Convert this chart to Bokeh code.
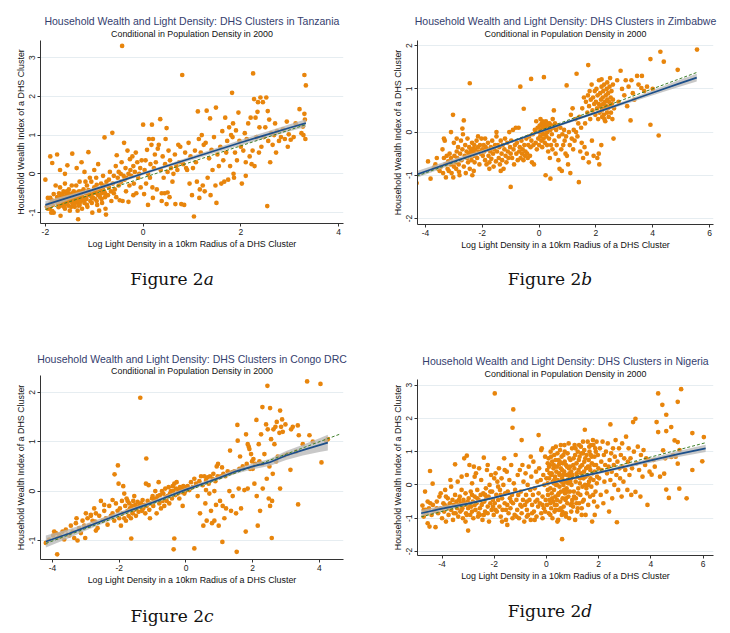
from bokeh.plotting import figure
from bokeh.models import FixedTicker, Title, Div
from bokeh.layouts import column, row
from bokeh.embed import file_html
from bokeh.resources import INLINE

# ---------------- data ----------------
TITLE_BASE = "Household Wealth and Light Density: DHS Clusters in "
SUBTITLE = "Conditional in Population Density in 2000"
XLABEL = "Log Light Density in a 10km Radius of a DHS Cluster"
YLABEL = "Household Wealth Index of a DHS Cluster"
COUNTRIES = ["Tanzania", "Zimbabwe", "Congo DRC", "Nigeria"]
CAPTIONS = ["a", "b", "c", "d"]

TZ_XTICKS = [-2, 0, 2, 4]
TZ_YTICKS = [-1, 0, 1, 2, 3]
ZW_XTICKS = [-4, -2, 0, 2, 4, 6]
ZW_YTICKS = [-2, -1, 0, 1, 2]
CD_XTICKS = [-4, -2, 0, 2, 4]
CD_YTICKS = [-1, 0, 1, 2]
NG_XTICKS = [-4, -2, 0, 2, 4, 6]
NG_YTICKS = [-2, -1, 0, 1, 2, 3]

TZ_PTS = [
    (-2.0,-0.15),(-1.9,0.45),(-1.86,0.28),(-1.83,-0.52),(-1.86,-0.69),(-1.9,-0.77),(-1.91,-0.9),(-1.83,-1.0),
    (-1.86,-0.96),(-1.76,0.5),(-1.79,-0.3),(-1.76,-0.6),(-1.73,-0.86),(-1.69,-1.08),(-1.69,-0.69),(-1.95,-0.62),(-1.97,-0.85),
    (-1.7,-0.35),(-1.68,-0.55),(-1.66,-0.7),(-1.65,-0.8),(-1.63,-0.45),(-1.62,-0.62),(-1.6,-0.9),(-1.6,-0.25),(-1.58,-0.72),
    (-1.57,-0.5),(-1.55,-0.6),(-1.55,0.22),(-1.53,-0.82),(-1.52,-0.4),(-1.5,-0.65),(-1.5,-0.95),(-1.48,-0.55),(-1.46,-0.3),
    (-1.45,0.52),(-1.45,-0.75),(-1.43,-0.62),(-1.42,-0.45),(-1.4,-0.85),(-1.4,-0.68),(-1.38,-0.55),(-1.37,-0.3),(-1.36,0.15),
    (-1.35,-0.72),(-1.34,-0.95),(-1.33,-1.17),(-1.32,-0.6),(-1.31,-0.45),(-1.3,-0.8),(-1.3,-0.2),(-1.28,-0.65),(-1.27,-0.5),
    (-1.26,0.3),(-1.25,-0.9),(-1.74,-0.7),(-1.72,-0.5),(-1.69,-0.82),(-1.64,-0.62),(-1.61,-0.78),(-1.56,-0.45),(-1.54,-0.7),
    (-1.49,-0.6),(-1.47,-0.85),(-1.44,-0.5),(-1.41,-0.6),(-1.39,-0.75),(-1.36,-0.58),(-1.33,-0.68),(-1.29,-0.55),(-1.6,0.0),(-1.7,0.1),
    (-1.75,-0.75),(-1.7,-0.62),(-1.65,-0.52),(-1.62,-0.85),(-1.58,-0.58),(-1.55,-0.78),(-1.52,-0.5),(-1.48,-0.7),(-1.45,-0.58),
    (-1.42,-0.78),(-1.38,-0.65),(-1.35,-0.48),(-1.32,-0.82),(-1.28,-0.72),(-1.25,-0.45),(-1.22,-0.68),(-1.18,-0.62),(-1.15,-0.8),
    (-1.12,-0.42),(-1.08,-0.55),(-1.05,-0.75),(-1.02,-0.62),(-0.98,-0.45),(-0.95,-0.7),(-0.92,-0.55),(-0.88,-0.4),(-0.85,-0.65),
    (-0.82,-0.35),(-0.78,-0.5),(-0.75,-0.2),(-1.8,-0.7),(-1.85,-0.8),(-1.9,-0.62),(-1.95,-0.9),(-1.88,-1.0),
    (-1.24,-0.6),(-1.22,-0.4),(-1.2,-0.75),(-1.2,0.05),(-1.18,-0.5),(-1.16,-0.65),(-1.15,-0.3),(-1.14,-0.85),(-1.12,0.56),
    (-1.11,-0.55),(-1.1,-0.45),(-1.08,-0.7),(-1.06,-0.2),(-1.05,-0.6),(-1.04,-1.0),(-1.02,-0.5),(-1.0,-0.35),(-0.98,-0.65),
    (-0.96,-0.1),(-0.95,-0.5),(-0.94,-0.8),(-0.92,0.25),(-0.9,-0.4),(-0.88,-0.6),(-0.86,-0.25),(-0.85,-0.5),(-0.84,-0.75),
    (-0.82,-0.05),(-0.8,-0.45),(-0.8,-0.3),(-0.78,-0.6),(-0.77,-0.9),(-0.76,-1.05),(-0.79,0.94),(-1.18,-0.2),(-1.0,0.1),
    (-1.09,-0.1),(-0.9,-0.95),(-0.95,-0.28),
    (-0.74,-0.3),(-0.72,-0.55),(-0.7,-0.15),(-0.68,0.05),(-0.66,-0.45),(-0.65,-0.7),(-0.63,1.06),(-0.62,-0.25),(-0.6,-0.05),
    (-0.58,-0.4),(-0.56,0.2),(-0.55,-0.6),(-0.54,0.48),(-0.52,-0.1),(-0.5,-0.3),(-0.48,-0.68),(-0.46,0.0),(-0.45,-0.2),
    (-0.44,0.3),(-0.43,3.3),(-0.42,-0.7),(-0.4,-0.05),(-0.39,0.8),(-0.38,-0.15),(-0.36,0.15),(-0.35,-0.45),(-0.34,-0.1),
    (-0.32,0.6),(-0.3,0.0),(-0.3,-0.72),(-0.28,-0.3),(-0.27,0.38),(-0.26,0.1),(-0.7,-0.35),(-0.5,0.05),(-0.6,-0.5),
    (-0.24,-0.05),(-0.22,0.45),(-0.2,0.2),(-0.19,-0.25),(-0.17,0.05),(-0.15,0.55),(-0.14,-0.5),(-0.12,0.3),(-0.1,-0.1),
    (-0.08,0.0),(-0.06,0.15),(-0.05,-0.35),(-0.03,0.35),(0.0,1.27),(0.02,-0.52),(0.03,0.1),(0.05,0.35),(0.06,-0.25),
    (0.08,0.62),(0.1,0.0),(0.12,0.9),(0.14,-0.1),(0.15,0.25),(0.17,0.75),(0.18,1.27),(0.19,-0.35),(0.2,0.9),(0.22,0.15),
    (0.24,0.5),(0.2,-0.62),(0.1,-0.8),(-0.2,-0.55),
    (0.26,0.3),(0.28,-0.4),(0.3,0.65),(0.32,0.75),(0.35,1.41),(0.36,0.1),(0.38,-0.7),(0.4,0.45),(0.42,-0.1),(0.44,-0.5),
    (0.45,0.25),(0.46,0.9),(0.48,1.18),(0.5,-0.48),(0.5,0.05),(0.52,0.6),(0.54,-0.6),(0.55,0.35),(0.57,0.15),(0.6,-0.2),
    (0.62,0.0),(0.65,0.5),(0.66,-0.78),(0.68,0.2),(0.7,0.1),(0.72,0.75),(0.74,0.3),(0.38,-0.5),(0.48,-0.78),
    (0.76,0.7),(0.78,-0.78),(0.8,2.55),(0.82,0.25),(0.84,-0.8),(0.86,0.55),(0.9,0.1),(0.93,0.8),(0.95,-0.25),(0.97,0.45),
    (1.0,-0.55),(1.02,0.15),(1.04,-1.1),(1.06,0.6),(1.08,0.3),(1.1,-0.2),(1.12,1.61),(1.14,0.9),(1.16,-0.4),(1.18,0.55),
    (1.2,1.0),(1.22,-0.3),(1.24,0.75),(0.88,0.15),(1.15,-0.62),
    (1.26,-0.45),(1.28,0.8),(1.3,1.63),(1.32,-0.1),(1.35,0.4),(1.37,1.43),(1.38,-0.55),(1.4,0.62),(1.42,0.1),(1.45,0.95),
    (1.48,-0.3),(1.49,1.71),(1.5,-0.75),(1.52,0.5),(1.55,0.2),(1.58,0.7),(1.6,-0.25),(1.62,1.1),(1.64,0.35),(1.66,-0.2),
    (1.68,1.45),(1.7,0.55),(1.72,0.85),(1.74,-0.15),
    (1.76,1.2),(1.78,0.2),(1.8,1.0),(1.82,2.09),(1.83,0.95),(1.84,1.3),(1.86,-0.1),(1.88,0.55),(1.9,1.12),(1.92,0.35),
    (1.95,1.58),(1.97,0.85),(2.0,0.7),(2.02,-0.25),(2.05,0.6),(2.08,1.05),(2.1,0.3),(2.12,0.9),(2.15,1.3),(2.18,0.45),
    (2.2,1.45),(2.22,0.25),(2.24,0.6),(2.25,2.59),(1.85,0.0),(2.1,-0.05),
    (2.27,1.93),(2.28,0.2),(2.3,1.45),(2.32,0.95),(2.34,1.6),(2.35,1.85),(2.37,0.55),(2.38,1.2),(2.4,1.97),(2.42,0.7),
    (2.45,1.85),(2.47,0.95),(2.5,1.2),(2.52,1.97),(2.54,-0.83),(2.55,1.62),(2.56,0.85),(2.58,1.4),(2.6,0.3),(2.62,1.05),
    (2.65,0.75),(2.68,1.0),(2.7,1.3),(2.72,0.55),(2.74,1.1),
    (2.78,0.85),(2.82,0.95),(2.86,1.15),(2.9,0.9),(2.94,1.35),(2.96,0.7),(2.98,1.02),(3.02,0.88),(3.08,0.95),(3.12,1.3),
    (3.2,1.67),(3.24,1.05),(3.28,1.0),(3.3,2.55),(3.32,0.9),(3.3,1.55),(3.33,2.28),(3.27,1.22),(3.31,1.4),
]

ZW_PTS = [
    (-4.31,-1.18),(-3.91,-0.68),(-3.82,-1.08),(-3.6,-0.6),(-3.55,-0.85),(-3.5,-0.9),(-3.7,-0.82),(-3.65,-0.75),
    (-3.45,-0.8),(-3.4,-0.4),(-3.38,-0.95),(-3.35,-0.6),(-3.32,-0.2),(-3.3,-0.75),(-3.28,-1.05),(-3.25,-0.55),(-3.22,-0.85),
    (-3.2,-0.68),(-3.18,-0.9),(-3.15,-0.5),(-3.12,-0.75),(-3.1,-0.6),(-3.08,-0.95),(-3.05,-0.7),(-3.03,0.4),(-3.02,-1.05),
    (-3.0,-0.8),(-3.0,-0.25),(-3.1,0.0),(-3.35,-0.15),
    (-2.98,-0.55),(-2.95,-0.7),(-2.92,-0.85),(-2.9,-0.45),(-2.88,-0.6),(-2.85,-0.35),(-2.83,-0.75),(-2.8,-1.0),(-2.78,-0.5),
    (-2.75,-0.2),(-2.73,-0.65),(-2.7,-0.4),(-2.68,-0.05),(-2.65,0.27),(-2.65,-0.8),(-2.62,-0.55),(-2.6,-0.3),(-2.58,-0.95),
    (-2.55,-0.45),(-2.53,-0.6),(-2.52,-0.15),(-2.5,-0.7),(-2.7,0.08),(-2.9,-0.15),(-2.82,-0.92),
    (-2.48,-0.5),(-2.46,-0.35),(-2.44,1.13),(-2.44,-0.85),(-2.42,-0.55),(-2.4,-0.4),(-2.38,-0.65),(-2.36,-0.25),(-2.35,-1.0),
    (-2.33,-0.45),(-2.3,-0.55),(-2.28,-0.3),(-2.27,-0.7),(-2.25,-0.4),(-2.23,-0.5),(-2.2,-0.2),(-2.18,-0.6),(-2.15,-0.35),
    (-2.12,-0.45),(-2.1,-0.75),(-2.08,-0.3),(-2.05,-0.5),(-2.03,-0.15),(-2.0,-0.4),(-2.3,-0.9),(-2.15,-0.1),(-2.4,-0.48),(-2.32,-0.38),
    (-1.98,-0.55),(-1.95,-0.3),(-1.93,-0.45),(-1.9,-0.65),(-1.88,-0.35),(-1.85,-0.75),(-1.83,-0.4),(-1.8,-0.25),(-1.78,-0.55),
    (-1.75,-0.7),(-1.72,-0.45),(-1.7,-0.35),(-1.68,-0.62),(-1.65,-0.2),(-1.62,-0.5),(-1.6,-0.8),(-1.58,-0.4),(-1.55,-0.3),
    (-1.52,-0.68),(-1.5,-0.1),(-1.5,0.0),(-1.75,-0.85),(-1.9,-0.15),
    (-1.48,-0.45),(-1.45,-0.3),(-1.42,-0.6),(-1.4,-0.35),(-1.38,-0.75),(-1.35,-0.2),(-1.32,-0.5),(-1.3,-0.65),(-1.28,-0.3),
    (-1.25,-0.85),(-1.22,-0.4),(-1.2,-0.15),(-1.18,-0.55),(-1.15,-0.7),(-1.12,-0.25),(-1.1,-0.45),(-1.08,-0.6),(-1.05,0.0),
    (-1.02,-0.35),(-1.0,-1.27),(-1.0,-0.5),(-1.35,-0.9),
    (-0.98,-0.2),(-0.95,-0.6),(-0.92,0.05),(-0.9,-0.4),(-0.88,-0.75),(-0.85,-0.3),(-0.82,0.1),(-0.8,-0.5),(-0.78,-0.25),
    (-0.75,-0.65),(-0.72,0.1),(-0.7,-0.45),(-0.68,-0.35),(-0.66,1.05),(-0.65,-0.6),(-0.62,-0.2),(-0.6,-0.5),(-0.58,-0.4),
    (-0.55,-0.65),(-0.54,0.54),(-0.52,-0.3),(-0.5,-0.55),
    (-0.48,-0.45),(-0.45,-0.15),(-0.42,-0.5),(-0.4,-0.6),(-0.38,-0.3),(-0.35,-0.1),(-0.32,-0.55),(-0.3,-0.35),(-0.28,1.23),
    (-0.27,-0.2),(-0.25,-0.7),(-0.22,-0.05),(-0.2,-0.3),(-0.18,-0.75),(-0.15,0.05),(-0.12,-0.25),(-0.1,0.25),(-0.08,-0.4),
    (-0.05,0.1),(-0.03,-0.15),(0.0,0.0),(0.0,-0.3),
    (0.02,0.15),(0.04,-0.1),(0.05,0.3),(0.06,0.05),(0.08,-0.2),(0.09,0.2),(0.1,0.0),(0.11,-0.35),(0.12,0.1),(0.13,0.25),
    (0.14,-0.05),(0.15,0.15),(0.16,-0.15),(0.17,1.27),(0.18,0.05),(0.19,0.2),(0.2,-0.25),(0.21,0.1),(0.22,-0.05),(0.23,-1.0),
    (0.24,0.25),(0.25,0.05),(0.26,-0.1),(0.27,0.15),(0.28,-0.3),(0.29,0.2),(0.3,0.0),(0.32,-0.45),(0.33,0.1),(0.35,-0.15),
    (0.37,0.2),(0.38,-0.6),(0.4,-1.08),(0.4,0.05),(0.42,-0.3),(0.44,0.15),(0.45,-0.05),(0.47,-0.4),(0.48,0.3),(0.5,0.1),
    (0.52,0.5),(0.54,-0.2),(0.56,0.2),(0.58,-0.5),(0.6,0.05),(0.62,-0.3),(0.65,0.15),(0.68,-0.65),(0.7,-0.1),(0.72,-0.85),
    (0.75,0.1),(0.78,-0.4),(0.8,-0.9),(0.82,-0.05),(0.85,-0.3),(0.88,0.05),(0.9,-0.2),(0.93,-0.5),(0.95,-0.1),(0.97,1.08),(0.98,-0.55),
    (1.02,-0.75),(1.05,0.0),(1.08,-0.3),(1.1,-0.95),(1.12,0.4),(1.15,-0.15),(1.18,0.55),(1.2,-0.4),(1.22,0.05),(1.25,-0.2),
    (1.28,0.3),(1.3,0.0),(1.32,1.35),(1.35,-0.1),(1.38,0.2),(1.4,-1.16),(1.42,0.35),(1.45,-0.45),(1.48,0.1),(1.5,-0.25),
    (1.52,0.55),(1.55,-0.6),(1.58,0.8),(1.6,-0.35),(1.62,0.2),(1.65,0.7),(1.68,-0.5),(1.7,0.45),(1.72,0.85),(1.73,1.55),
    (1.75,-0.7),(1.76,0.6),(1.78,0.95),(1.8,0.3),(1.82,0.75),(1.85,1.1),(1.86,-0.2),(1.88,0.5),(1.9,0.8),(1.92,-0.55),
    (1.94,0.65),(1.96,0.95),(1.98,0.4),
    (2.0,0.7),(2.02,1.0),(2.04,0.55),(2.05,-0.6),(2.06,0.85),(2.08,0.3),(2.1,0.65),(2.11,1.2),(2.12,-0.75),(2.13,0.45),
    (2.15,0.9),(2.16,0.6),(2.18,0.75),(2.19,-0.3),(2.2,1.05),(2.21,0.5),(2.22,0.35),(2.24,0.8),(2.25,0.65),(2.26,0.95),
    (2.28,0.4),(2.29,1.1),(2.3,0.55),(2.32,0.7),(2.33,0.25),(2.35,0.85),(2.36,0.6),(2.38,1.0),(2.39,0.45),(2.4,0.75),
    (2.42,0.55),(2.43,0.9),(2.45,0.35),(2.46,0.7),(2.48,1.05),(2.5,0.6),(2.52,0.8),(2.53,0.45),(2.55,0.95),(2.56,0.65),
    (2.58,0.3),(2.6,0.75),(2.62,-0.15),(2.64,0.55),(2.6,1.1),(2.5,1.25),(2.4,1.15),(2.2,1.22),(2.1,-0.5),(2.3,0.3),
    (2.75,1.2),(2.8,0.7),(2.87,1.42),(2.92,1.0),(3.0,0.85),(3.05,1.2),(3.1,0.6),(3.15,1.05),(3.22,0.27),(3.3,0.9),
    (3.35,0.75),(3.45,1.3),(3.5,1.1),(3.62,1.3),(3.7,0.95),(3.8,1.05),(3.92,1.69),(3.92,0.17),(4.0,1.0),(4.21,-0.08),
    (4.27,1.86),(4.39,1.63),(4.88,1.44),(5.56,1.91),(3.25,1.2),(3.6,1.02),
]

CD_PTS = [
    (-4.2,-1.05),(-4.1,-0.98),(-3.98,-0.9),(-3.9,-0.85),(-3.85,-0.95),(-3.8,-0.88),(-3.75,-0.92),(-3.7,-0.82),(-3.65,-0.98),
    (-3.6,-0.78),(-3.55,-0.88),(-3.5,-0.9),(-3.45,-0.7),(-3.4,-0.82),(-3.35,-0.95),(-3.3,-0.65),(-3.28,-0.55),(-3.25,-1.0),
    (-3.2,-0.75),(-3.15,-0.85),(-3.1,-0.6),(-3.05,-0.7),(-3.02,-0.95),(-3.0,-0.45),(-3.86,-1.28),(-3.95,-0.82),
    (-2.95,-0.55),(-2.9,-0.7),(-2.85,-0.5),(-2.8,-0.6),(-2.75,-0.35),(-2.72,-0.62),(-2.7,-0.45),(-2.65,-0.75),(-2.6,-0.5),
    (-2.55,-0.2),(-2.5,-0.6),(-2.45,-0.4),(-2.4,-0.55),(-2.35,-0.68),(-2.3,-0.3),(-2.25,-0.5),(-2.2,-0.45),(-2.15,-0.6),
    (-2.14,0.34),(-2.1,-0.25),(-2.05,-0.4),(-2.04,0.52),(-2.02,0.15),(-2.0,-0.55),(-2.45,-0.28),(-2.7,-0.8),(-2.85,-0.48),(-2.2,-0.18),
    (-1.98,-0.35),(-1.95,-0.7),(-1.92,-0.2),(-1.9,-0.45),(-1.88,0.1),(-1.85,-0.55),(-1.82,-0.3),(-1.8,-0.6),(-1.78,-0.15),
    (-1.75,-0.4),(-1.72,-0.5),(-1.7,-0.25),(-1.68,-0.35),(-1.65,-0.55),(-1.64,-0.96),(-1.62,-0.3),(-1.6,-0.45),(-1.58,-0.2),
    (-1.55,-0.38),(-1.52,-0.28),(-1.5,-0.5),(-1.48,-0.35),(-1.45,-0.22),(-1.42,-0.42),(-1.4,-0.3),(-1.37,1.89),(-1.35,-0.25),
    (-1.32,-0.4),(-1.3,-0.18),(-1.28,-0.35),(-1.25,-0.28),(-1.22,-0.45),(-1.2,0.15),(-1.19,0.66),(-1.18,-0.3),(-1.15,-0.2),
    (-1.12,0.12),(-1.1,-0.38),(-1.08,-0.55),(-1.05,-0.25),(-1.02,-0.15),(-1.0,-0.1),(-1.55,-0.1),(-1.75,-0.2),(-1.85,-0.05),
    (-0.98,-0.3),(-0.95,-0.2),(-0.92,0.0),(-0.9,-0.15),(-0.88,-0.45),(-0.85,-0.1),(-0.82,0.18),(-0.8,-0.25),(-0.78,-0.08),
    (-0.75,-0.35),(-0.72,0.0),(-0.7,-0.2),(-0.68,-0.05),(-0.65,-0.3),(-0.62,0.05),(-0.6,-0.12),(-0.58,-0.2),(-0.55,-0.1),
    (-0.52,0.08),(-0.5,-0.25),(-0.48,-0.05),(-0.45,0.0),(-0.42,-0.15),(-0.4,0.1),(-0.38,0.0),(-0.35,-0.96),(-0.37,-1.18),
    (-0.35,0.15),(-0.32,-0.08),(-0.3,0.05),(-0.28,0.18),(-0.25,-0.05),(-0.22,0.0),(-0.2,-0.15),(-0.18,0.08),(-0.15,-0.02),
    (-0.12,0.05),(-0.1,-0.3),(-0.08,0.1),(-0.05,-0.05),(-0.02,0.0),(0.0,0.08),
    (0.05,0.1),(0.1,0.02),(0.15,0.18),(0.2,0.08),(0.25,-1.16),(0.25,0.25),(0.3,0.15),(0.35,-0.1),(0.4,0.2),(0.42,-0.45),
    (0.45,0.3),(0.5,0.12),(0.52,-0.7),(0.55,0.3),(0.58,-0.25),(0.6,0.22),(0.62,-0.6),(0.65,0.28),(0.68,0.15),(0.7,-0.05),
    (0.72,0.3),(0.75,-0.4),(0.78,-0.65),(0.8,0.25),(0.82,0.35),(0.85,-0.6),(0.88,0.2),(0.9,-0.28),(0.92,0.5),(0.95,0.3),
    (0.96,0.55),(0.98,-0.7),(1.0,0.28),(0.6,0.02),(0.85,0.0),
    (1.02,-0.2),(1.05,0.3),(1.08,0.48),(1.09,-1.03),(1.1,-0.3),(1.12,0.35),(1.15,-0.55),(1.18,0.3),(1.2,-0.35),(1.25,0.4),
    (1.3,0.0),(1.32,0.82),(1.35,-0.4),(1.38,0.38),(1.4,-0.1),(1.45,0.4),(1.5,-0.45),(1.52,-1.23),(1.54,1.34),(1.55,1.02),
    (1.58,0.05),(1.6,0.45),(1.62,0.7),(1.65,-0.35),(1.7,0.5),(1.75,0.02),(1.79,-0.82),(1.8,1.15),(1.82,0.55),(1.85,0.05),
    (1.88,0.9),(1.9,0.85),(1.92,0.45),(1.95,0.75),(1.98,0.6),(2.0,0.45),(1.85,0.95),
    (2.02,0.65),(2.05,0.15),(2.08,0.55),(2.11,1.44),(2.12,-0.1),(2.15,-0.7),(2.18,0.95),(2.2,0.6),(2.22,-0.4),(2.25,1.15),
    (2.28,0.55),(2.29,1.7),(2.3,0.05),(2.35,0.75),(2.4,1.35),(2.42,0.25),(2.44,2.13),(2.45,1.25),(2.48,-0.15),(2.5,0.5),
    (2.52,1.68),(2.52,-0.3),(2.55,1.05),(2.57,-0.95),(2.58,-0.2),(2.6,0.35),(2.62,1.25),(2.65,0.95),(2.68,1.3),(2.7,0.6),
    (2.72,1.4),(2.75,0.7),(2.8,1.18),(2.82,1.63),(2.82,0.05),(2.85,1.3),(2.88,1.45),(2.9,1.2),(2.95,0.72),(2.98,1.35),
    (3.05,0.75),(3.13,0.43),(3.15,1.25),(3.2,1.3),(3.3,0.8),(3.36,-0.27),(3.38,1.13),(3.35,1.33),(3.5,0.95),(3.63,2.22),
    (3.7,1.13),(3.8,1.0),(4.03,2.17),(4.06,0.58),(4.2,1.02),(4.25,1.05),
]

NG_PTS = [
    (-4.75,-0.62),(-4.7,-0.75),(-4.65,-0.2),(-4.6,-0.85),(-4.55,-1.15),(-4.5,-0.7),(-4.46,0.42),(-4.45,-0.55),(-4.4,-0.9),
    (-4.36,0.04),(-4.35,-0.6),(-4.3,-0.78),(-4.25,-1.27),(-4.2,-0.5),(-4.15,-0.85),(-4.1,-0.35),(-4.05,-0.7),(-4.0,-1.0),
    (-4.48,-1.25),(-4.7,-0.95),(-4.05,-0.25),
    (-3.95,-0.55),(-3.92,-0.8),(-3.88,-0.15),(-3.85,-1.1),(-3.8,-0.65),(-3.78,-0.4),(-3.75,-0.9),(-3.7,-0.55),(-3.68,0.15),
    (-3.65,-0.75),(-3.6,-0.45),(-3.58,-1.05),(-3.55,-0.6),(-3.5,0.62),(-3.5,-0.3),(-3.48,-0.85),(-3.45,-0.5),(-3.42,-0.7),
    (-3.4,0.1),(-3.38,-0.95),(-3.35,-0.6),(-3.32,-0.35),(-3.3,-0.8),(-3.28,-0.55),(-3.25,0.25),(-3.22,-0.7),(-3.2,-1.0),
    (-3.18,-0.45),(-3.15,0.8),(-3.12,-0.6),(-3.1,-0.25),(-3.08,-0.85),(-3.05,0.3),(-3.02,-0.5),(-3.0,-1.37),(-3.0,-0.7),
    (-3.55,-0.85),(-3.85,-0.35),(-3.65,-0.05),(-3.25,-0.15),(-3.1,-1.1),(-3.05,0.88),
    (-3.45,-0.65),(-3.35,-0.45),(-3.25,-0.75),(-3.15,-0.55),(-3.05,-0.9),(-2.95,-0.6),(-2.85,-0.3),(-2.75,-0.6),(-2.65,-0.4),
    (-2.55,-0.9),(-2.45,-0.5),(-2.35,-0.3),(-2.25,-0.85),(-2.15,-0.2),(-2.05,-0.65),(-3.75,-0.7),(-3.9,-0.6),(-4.2,-0.7),
    (-4.55,-0.5),(-4.62,-0.75),(-1.95,-0.75),(-1.75,-0.3),(-1.55,-0.75),(-1.35,-0.5),(-1.15,-0.95),(-0.95,-0.65),
    (-0.75,-0.95),(-0.55,-0.85),(-0.35,-0.45),(-0.15,-0.6),
    (-2.98,-0.4),(-2.95,0.6),(-2.92,-0.9),(-2.9,-0.2),(-2.88,-0.65),(-2.85,0.05),(-2.82,-0.5),(-2.8,-1.0),(-2.78,0.55),
    (-2.75,-0.35),(-2.72,-0.75),(-2.7,0.35),(-2.68,-0.55),(-2.65,-0.15),(-2.62,-0.95),(-2.6,-0.45),(-2.58,0.5),(-2.55,-0.7),
    (-2.52,-0.3),(-2.5,0.15),(-2.48,-0.6),(-2.45,-1.05),(-2.42,-0.25),(-2.4,0.82),(-2.38,-0.5),(-2.35,-0.8),(-2.32,-0.1),
    (-2.3,-0.4),(-2.28,0.45),(-2.25,-0.65),(-2.22,-0.35),(-2.2,-1.1),(-2.18,0.0),(-2.15,-0.55),(-2.12,0.3),(-2.1,-0.75),
    (-2.08,-0.2),(-2.05,-0.45),(-2.02,-0.9),(-2.0,0.2),(-2.6,-0.85),(-2.85,-0.8),(-2.4,-0.9),(-2.25,0.6),(-2.75,0.25),
    (-1.98,2.75),(-1.98,-0.55),(-1.95,0.35),(-1.92,-0.3),(-1.9,-0.8),(-1.88,0.1),(-1.85,-0.45),(-1.82,0.5),(-1.8,-0.65),
    (-1.78,-0.15),(-1.75,-0.95),(-1.72,0.2),(-1.7,-0.4),(-1.68,-0.75),(-1.65,0.0),(-1.62,0.8),(-1.6,-0.55),(-1.58,-0.25),
    (-1.55,-1.05),(-1.52,0.4),(-1.5,-0.6),(-1.48,-0.2),(-1.45,-0.85),(-1.42,0.15),(-1.4,-0.4),(-1.38,-0.7),(-1.35,0.6),
    (-1.32,-0.3),(-1.3,1.72),(-1.28,-0.55),(-1.27,2.27),(-1.25,0.05),(-1.22,-0.9),(-1.2,-0.15),(-1.18,0.9),(-1.15,-0.45),
    (-1.12,-0.75),(-1.1,0.3),(-1.08,-0.3),(-1.05,-1.0),(-1.02,0.45),(-1.0,-0.6),(-1.5,-1.2),(-1.7,-1.1),(-1.3,-1.0),
    (-1.6,0.45),(-1.85,-0.05),
    (-0.98,-0.2),(-0.95,1.35),(-0.95,-0.85),(-0.92,0.6),(-0.9,-0.45),(-0.88,0.1),(-0.85,-1.1),(-0.82,-0.6),(-0.8,0.35),
    (-0.78,-0.3),(-0.75,-0.75),(-0.72,0.0),(-0.7,-0.9),(-0.68,0.55),(-0.65,-0.45),(-0.62,-0.15),(-0.6,-1.05),(-0.58,0.25),
    (-0.55,-0.6),(-0.52,-0.3),(-0.5,0.7),(-0.48,-0.8),(-0.45,-0.1),(-0.42,-0.5),(-0.4,0.4),(-0.38,-0.95),(-0.35,0.1),
    (-0.32,-0.65),(-0.3,1.5),(-0.3,-0.25),(-0.28,0.5),(-0.25,-0.55),(-0.22,0.15),(-0.2,-0.85),(-0.18,1.1),(-0.15,-0.35),
    (-0.12,0.3),(-0.1,-0.7),(-0.08,0.0),(-0.05,0.85),(-0.03,-0.45),(0.0,0.2),(-0.6,0.85),(-0.2,1.05),(-0.45,-1.05),
    (-0.75,-0.5),(-0.15,-1.0),(-0.05,-0.8),
    (0.02,-0.6),(0.03,0.45),(0.05,0.05),(0.06,-0.3),(0.08,0.8),(0.09,-0.85),(0.1,0.2),(0.12,-0.45),(0.13,0.6),(0.15,-0.1),
    (0.16,1.0),(0.18,-0.7),(0.19,0.3),(0.2,-0.25),(0.22,0.7),(0.23,-1.0),(0.24,0.1),(0.26,-0.5),(0.27,0.5),(0.29,-0.15),
    (0.3,0.9),(0.31,-0.8),(0.33,0.25),(0.34,-0.35),(0.36,1.15),(0.37,0.0),(0.39,-0.6),(0.4,0.55),(0.42,-1.1),(0.43,0.15),
    (0.45,-0.3),(0.46,0.75),(0.48,-0.75),(0.49,0.35),(0.5,-0.05),(0.52,1.05),(0.53,-0.5),(0.55,0.5),(0.56,-0.2),(0.58,0.85),
    (0.59,-0.9),(0.6,-1.63),(0.6,0.2),(0.62,-0.4),(0.63,0.65),(0.65,0.0),(0.66,-0.65),(0.68,0.4),(0.69,1.2),(0.71,-0.25),
    (0.72,0.1),(0.74,-0.85),(0.75,0.6),(0.77,-0.1),(0.78,0.3),(0.8,-0.55),(0.81,0.95),(0.83,0.05),(0.84,-0.35),(0.86,0.5),
    (0.87,-1.0),(0.89,0.25),(0.9,-0.2),(0.92,0.75),(0.93,-0.6),(0.95,0.4),(0.96,0.0),(0.98,1.1),(0.99,-0.45),(0.1,0.55),
    (0.2,0.35),(0.3,0.15),(0.4,0.0),(0.5,0.3),(0.6,0.45),(0.7,0.7),(0.8,0.15),(0.9,0.55),(0.15,-0.55),(0.35,-0.75),
    (0.55,-0.7),(0.75,-0.4),(0.95,-0.8),(0.25,1.1),(0.45,-1.05),(0.65,0.9),(0.85,1.25),(0.05,0.65),(0.28,0.05),(0.48,0.62),
    (0.68,-0.15),(0.88,0.35),
    (0.05,-0.15),(0.12,0.35),(0.18,0.85),(0.22,-0.4),(0.28,0.6),(0.32,-0.6),(0.38,0.4),(0.42,0.95),(0.47,-0.25),(0.51,0.7),
    (0.57,0.1),(0.61,-0.8),(0.64,0.3),(0.7,1.0),(0.73,-0.45),(0.79,0.55),(0.82,-0.2),(0.88,0.8),(0.91,0.1),(0.97,-0.55),
    (1.03,0.6),(1.06,-0.35),(1.11,1.1),(1.16,0.35),(1.21,-0.25),(1.24,0.75),(1.29,0.2),(1.34,0.95),(1.39,-0.5),(1.44,0.4),
    (1.49,0.8),(1.53,-0.1),(1.59,0.55),(1.64,1.15),(1.69,0.2),(1.73,0.85),(1.79,-0.3),(1.83,0.6),(1.89,1.0),(1.93,0.05),
    (0.15,-0.9),(0.35,0.75),(0.55,1.2),(0.75,-0.95),(0.95,0.2),(1.2,-0.7),(1.4,1.3),(1.6,0.0),(1.8,1.2),(0.4,-0.45),
    (1.0,0.3),(1.02,-0.65),(1.04,0.8),(1.05,-0.2),(1.07,0.5),(1.08,1.2),(1.1,-1.05),(1.12,0.1),(1.13,-0.4),(1.15,0.65),
    (1.17,0.25),(1.18,-0.8),(1.2,1.0),(1.22,-0.1),(1.23,0.45),(1.25,-0.55),(1.27,0.85),(1.28,0.05),(1.3,-0.3),(1.32,1.15),
    (1.33,0.35),(1.35,-0.7),(1.37,0.6),(1.38,-0.05),(1.4,0.95),(1.42,0.2),(1.43,-0.45),(1.45,0.7),(1.47,1.66),(1.48,0.0),
    (1.5,-0.9),(1.52,0.5),(1.54,0.9),(1.55,-0.25),(1.57,0.3),(1.58,1.3),(1.6,-0.6),(1.62,0.75),(1.63,0.1),(1.65,1.0),
    (1.67,-0.35),(1.68,0.45),(1.7,1.2),(1.72,-0.05),(1.74,0.65),(1.75,-1.1),(1.77,0.35),(1.78,1.35),(1.8,0.15),(1.82,-0.5),
    (1.84,0.85),(1.85,0.4),(1.87,1.1),(1.88,-0.2),(1.9,0.6),(1.92,1.3),(1.94,0.25),(1.95,-0.65),(1.97,0.9),(1.99,0.5),
    (1.1,0.9),(1.3,0.55),(1.5,0.25),(1.7,0.9),(1.25,1.2),(1.45,1.05),(1.65,0.55),(1.85,-0.9),(1.15,-0.55),(1.35,-0.9),
    (2.02,0.2),(2.05,1.1),(2.08,-0.3),(2.1,0.7),(2.12,0.45),(2.15,1.3),(2.18,-0.55),(2.2,0.9),(2.22,0.1),(2.25,0.6),
    (2.28,1.0),(2.3,-0.2),(2.32,0.35),(2.35,1.25),(2.38,0.55),(2.4,-0.8),(2.42,0.75),(2.45,1.82),(2.45,0.15),(2.48,0.95),
    (2.5,0.4),(2.52,-0.4),(2.55,1.1),(2.58,0.6),(2.6,0.0),(2.62,0.85),(2.65,1.35),(2.68,0.3),(2.7,-1.12),(2.72,0.7),
    (2.75,-0.15),(2.78,1.1),(2.8,0.5),(2.82,0.2),(2.85,0.9),(2.88,-0.35),(2.9,1.25),(2.92,0.55),(2.95,0.1),(2.98,0.8),
    (3.02,0.45),(3.05,1.45),(3.1,-0.15),(3.12,0.7),(3.15,1.1),(3.18,0.3),(3.22,0.8),(3.25,-0.3),(3.28,0.5),(3.32,1.89),
    (3.35,1.0),(3.41,1.99),(3.41,-0.21),(3.45,0.65),(3.5,1.15),(3.55,0.45),(3.6,-0.35),(3.62,0.9),(3.68,0.25),(3.72,1.05),
    (3.78,0.6),(3.82,0.8),(3.87,-0.6),(3.9,0.75),(3.95,0.4),
    (4.03,0.31),(4.1,0.75),(4.15,0.55),(4.22,1.89),(4.28,2.75),(4.28,1.59),(4.35,0.25),(4.44,2.41),(4.47,1.04),(4.51,0.34),
    (4.55,0.8),(4.59,2.11),(4.59,1.62),(4.59,-0.14),(4.69,-0.39),(4.78,1.74),(4.78,0.84),(4.85,0.9),(4.91,1.34),(4.95,0.85),
    (5.03,2.5),(5.03,1.29),(5.03,0.64),(5.09,-0.11),(5.16,2.88),(5.37,-0.4),(5.59,1.56),(5.59,0.45),(5.97,0.71),(6.03,1.44),(5.1,1.05),
]

# fitted curves (local fit + CI band) and linear fit
TZ_FIT_X = [-2.0, -1.5, -1.0, -0.5, 0.0, 0.5, 1.0, 1.5, 2.0, 2.5, 3.0, 3.33]
TZ_FIT_Y = [-0.80, -0.60, -0.40, -0.20, 0.01, 0.21, 0.41, 0.61, 0.81, 1.00, 1.19, 1.31]
TZ_CI_LO = [-0.90, -0.67, -0.45, -0.24, -0.03, 0.17, 0.36, 0.55, 0.74, 0.92, 1.10, 1.21]
TZ_CI_HI = [-0.70, -0.53, -0.35, -0.16, 0.05, 0.25, 0.46, 0.67, 0.88, 1.08, 1.28, 1.41]
TZ_LIN_X = [-2.0, 3.33]
TZ_LIN_Y = [-0.92, 1.27]

ZW_FIT_X = [-4.3, -3.0, -2.0, -1.0, 0.0, 1.0, 2.0, 3.0, 4.0, 5.0, 5.55]
ZW_FIT_Y = [-0.98, -0.68, -0.46, -0.23, 0.00, 0.23, 0.45, 0.68, 0.91, 1.14, 1.26]
ZW_CI_LO = [-1.06, -0.74, -0.50, -0.26, -0.03, 0.20, 0.42, 0.64, 0.85, 1.06, 1.17]
ZW_CI_HI = [-0.90, -0.62, -0.42, -0.20, 0.03, 0.26, 0.48, 0.72, 0.97, 1.22, 1.35]
ZW_LIN_X = [-4.3, 5.55]
ZW_LIN_Y = [-1.02, 1.38]

CD_FIT_X = [-4.2, -3.5, -3.0, -2.5, -2.0, -1.5, -1.0, -0.5, 0.0, 0.5, 1.0, 1.5, 2.0, 2.5, 3.0, 3.5, 4.0, 4.25]
CD_FIT_Y = [-1.02, -0.86, -0.73, -0.60, -0.47, -0.35, -0.23, -0.10, 0.03, 0.15, 0.27, 0.40, 0.50, 0.58, 0.72, 0.83, 0.93, 0.98]
CD_CI_LO = [-1.14, -0.95, -0.80, -0.66, -0.52, -0.39, -0.27, -0.14, -0.01, 0.11, 0.23, 0.35, 0.44, 0.51, 0.63, 0.72, 0.79, 0.82]
CD_CI_HI = [-0.90, -0.77, -0.66, -0.54, -0.42, -0.31, -0.19, -0.06, 0.07, 0.19, 0.31, 0.45, 0.56, 0.65, 0.81, 0.94, 1.07, 1.14]
CD_LIN_X = [-4.2, 4.6]
CD_LIN_Y = [-1.06, 1.15]

NG_FIT_X = [-4.8, -4.0, -3.0, -2.0, -1.0, 0.0, 1.0, 2.0, 3.0, 4.0, 5.0, 6.1]
NG_FIT_Y = [-0.85, -0.71, -0.56, -0.38, -0.18, 0.03, 0.20, 0.37, 0.55, 0.74, 0.92, 1.10]
NG_CI_LO = [-0.95, -0.79, -0.61, -0.42, -0.21, 0.00, 0.17, 0.33, 0.50, 0.67, 0.83, 0.99]
NG_CI_HI = [-0.75, -0.63, -0.51, -0.34, -0.15, 0.06, 0.23, 0.41, 0.60, 0.81, 1.01, 1.21]
NG_LIN_X = [-4.8, 6.1]
NG_LIN_Y = [-0.96, 1.27]

# ---------------- style ----------------
ORANGE = "#e8850c"
NAVY = "#1c4f8a"
GREEN = "#3f7f2a"
BAND = "#b5b5b5"
TITLE_COLOR = "#34406e"
SANS = "Liberation Sans"


def make_panel(country, pts, xr, yr, xticks, yticks, fx, fy, lo, hi, lx, ly,
               width, height, mbl, mbr, mbt, mbb, sub_standoff, title_standoff):
    p = figure(width=width, height=height, x_range=xr, y_range=yr,
               output_backend="svg", toolbar_location=None,
               min_border_left=mbl, min_border_right=mbr,
               min_border_top=mbt, min_border_bottom=mbb)
    p.outline_line_color = None
    p.background_fill_color = "white"
    p.border_fill_color = "white"

    p.add_layout(Title(text=SUBTITLE, align="center", text_font=SANS,
                       text_font_size="8.9px", text_font_style="normal",
                       text_color="#111111", standoff=sub_standoff), "above")
    p.add_layout(Title(text=TITLE_BASE + country, align="center", text_font=SANS,
                       text_font_size="10.5px", text_font_style="normal",
                       text_color=TITLE_COLOR, standoff=title_standoff), "above")

    xs = [a for a, b in pts]
    ys = [b for a, b in pts]
    p.scatter(xs, ys, size=4.7, fill_color=ORANGE, line_color=None)
    p.varea(x=fx, y1=lo, y2=hi, fill_color=BAND, fill_alpha=0.75)
    p.line(lx, ly, line_color=GREEN, line_width=1.0, line_dash="3 2")
    p.line(fx, fy, line_color=NAVY, line_width=1.7)

    for ax, ticks in ((p.xaxis, xticks), (p.yaxis, yticks)):
        ax.ticker = FixedTicker(ticks=ticks)
        ax.major_label_overrides = {t: str(t) for t in ticks}
        ax.minor_tick_line_color = None
        ax.major_tick_in = 0
        ax.major_tick_out = 3
        ax.axis_line_color = "#333333"
        ax.major_tick_line_color = "#333333"
        ax.major_label_text_font = SANS
        ax.major_label_text_font_size = "8.5px"
        ax.major_label_text_color = "#222222"
        ax.axis_label_text_font = SANS
        ax.axis_label_text_font_size = "8.9px"
        ax.axis_label_text_font_style = "normal"
        ax.axis_label_text_color = "#111111"
        ax.major_label_standoff = 2
        ax.axis_label_standoff = 1
    p.xaxis.axis_label = XLABEL
    p.yaxis.axis_label = YLABEL
    p.yaxis.major_label_orientation = "vertical"

    p.xgrid.visible = False
    p.ygrid.grid_line_color = "#e6edf1"
    p.ygrid.grid_line_width = 1
    p.ygrid.ticker = FixedTicker(ticks=yticks)
    return p


def caption(letter, top, shift):
    html = ('<div style="font-family:\'DejaVu Serif\';font-size:17px;line-height:18px;'
            'color:#111;text-align:center;width:344px;margin-left:%dpx;padding-top:%dpx;">'
            'Figure 2<i>%s</i></div>' % (shift, top, letter))
    return html


pa = make_panel(COUNTRIES[0], TZ_PTS, (-2.10, 4.10), (-1.28, 3.44), TZ_XTICKS, TZ_YTICKS,
                TZ_FIT_X, TZ_FIT_Y, TZ_CI_LO, TZ_CI_HI, TZ_LIN_X, TZ_LIN_Y,
                365, 258, 40, 22, 40, 35, 3, -2)
pb = make_panel(COUNTRIES[1], ZW_PTS, (-4.28, 6.14), (-2.14, 2.12), ZW_XTICKS, ZW_YTICKS,
                ZW_FIT_X, ZW_FIT_Y, ZW_CI_LO, ZW_CI_HI, ZW_LIN_X, ZW_LIN_Y,
                365, 258, 52, 17, 40, 34, 3, -2)
pc = make_panel(COUNTRIES[2], CD_PTS, (-4.36, 4.72), (-1.385, 2.34), CD_XTICKS, CD_YTICKS,
                CD_FIT_X, CD_FIT_Y, CD_CI_LO, CD_CI_HI, CD_LIN_X, CD_LIN_Y,
                365, 286, 39, 22, 69, 33, 0, -2)
pd_ = make_panel(COUNTRIES[3], NG_PTS, (-4.94, 6.40), (-2.12, 3.17), NG_XTICKS, NG_YTICKS,
                 NG_FIT_X, NG_FIT_Y, NG_CI_LO, NG_CI_HI, NG_LIN_X, NG_LIN_Y,
                 365, 286, 47, 15, 73, 37, 2, -2)

ca = Div(text=caption(CAPTIONS[0], 12, 0), width=365, height=48, margin=(0, 0, 0, 0))
cb = Div(text=caption(CAPTIONS[1], 12, 13), width=365, height=48, margin=(0, 0, 0, 0))
cc = Div(text=caption(CAPTIONS[2], 15, 0), width=365, height=41, margin=(0, 0, 0, 0))
cd = Div(text=caption(CAPTIONS[3], 10, 13), width=365, height=41, margin=(0, 0, 0, 0))

left = column(pa, ca, pc, cc, spacing=0)
right = column(pb, cb, pd_, cd, spacing=0)
layout = row(left, right, spacing=0)

open("out.html", "w").write(file_html(layout, INLINE))
